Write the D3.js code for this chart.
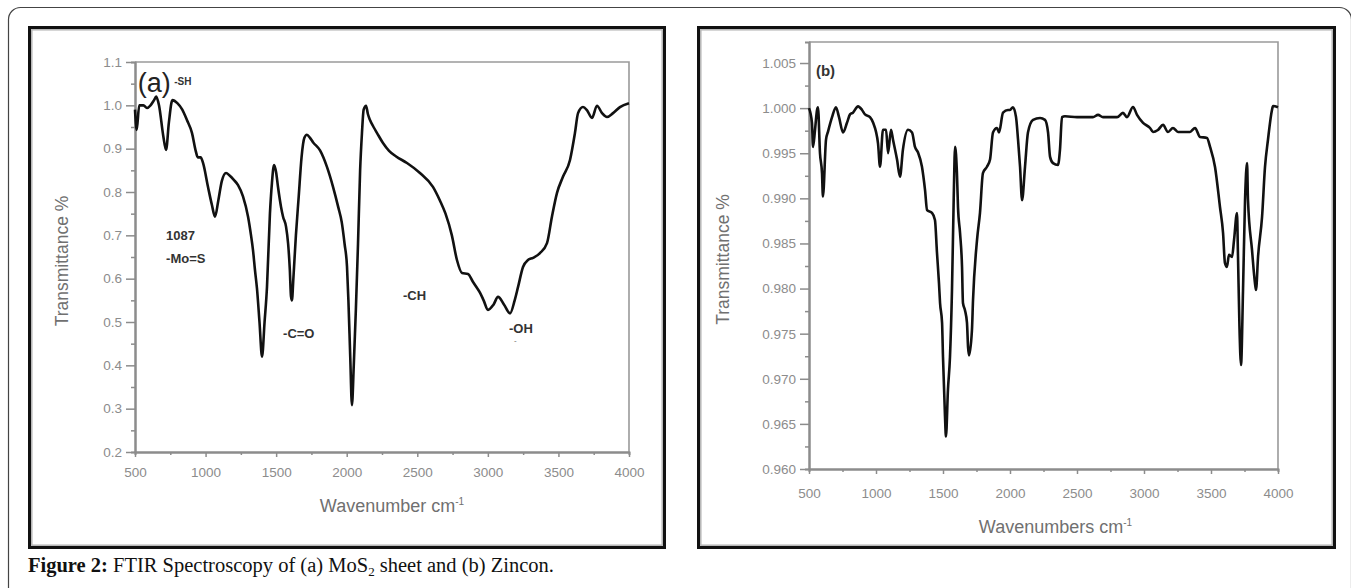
<!DOCTYPE html>
<html>
<head>
<meta charset="utf-8">
<script src="https://cdn.jsdelivr.net/npm/d3@7"></script>
<style>
  body { margin: 0; background: #fff; }
  svg { display: block; }
  .tick text { font-family: "Liberation Sans", Arial, sans-serif; fill: #8c8c8c; }
  .axis-title { font-family: "Liberation Sans", Arial, sans-serif; fill: #707070; }
  .note { font-family: "Liberation Sans", Arial, sans-serif; font-weight: bold; fill: #333; }
</style>
</head>
<body>
<div id="figure"></div>
<script>
// ---- panel (a): MoS2 sheet ----
var waveA = [500, 512, 530, 560, 585, 610, 635, 650, 670, 700, 720, 740, 765, 800, 835, 868, 904, 930, 945, 965,
  982, 1017, 1045, 1067, 1090, 1115, 1145, 1170, 1200, 1230, 1265, 1301, 1322, 1336, 1350, 1364, 1382, 1400, 1418, 1435,
  1456, 1470, 1485, 1500, 1513, 1535, 1549, 1570, 1585, 1597, 1605, 1612, 1622, 1640, 1660, 1680, 1700, 1718, 1740, 1761,
  1811, 1860, 1903, 1940, 1965, 1985, 2002, 2012, 2025, 2037, 2050, 2065, 2080, 2095, 2108, 2120, 2137, 2150, 2165, 2190,
  2215, 2257, 2300, 2350, 2427, 2519, 2611, 2661, 2700, 2745, 2781, 2817, 2859, 2894, 2920, 2944, 2970, 3001, 3040, 3072,
  3115, 3157, 3190, 3214, 3249, 3284, 3320, 3369, 3419, 3454, 3490, 3532, 3582, 3617, 3639, 3674, 3702, 3738, 3773, 3809,
  3844, 3887, 3936, 4000];
var transA = [0.990, 0.943, 1.000, 1.000, 0.994, 1.000, 1.012, 1.020, 1.000, 0.930, 0.897, 0.960, 1.012, 1.005, 0.990, 0.966, 0.936, 0.895, 0.880, 0.880,
  0.867, 0.812, 0.770, 0.743, 0.780, 0.825, 0.844, 0.838, 0.828, 0.816, 0.790, 0.743, 0.700, 0.666, 0.620, 0.578, 0.500, 0.420, 0.500, 0.580,
  0.750, 0.820, 0.862, 0.845, 0.812, 0.765, 0.743, 0.720, 0.680, 0.620, 0.560, 0.550, 0.600, 0.700, 0.790, 0.880, 0.925, 0.932, 0.925, 0.915,
  0.896, 0.858, 0.812, 0.765, 0.730, 0.680, 0.628, 0.550, 0.420, 0.308, 0.400, 0.530, 0.680, 0.850, 0.936, 0.990, 0.999, 0.980, 0.966, 0.950,
  0.936, 0.913, 0.895, 0.882, 0.867, 0.844, 0.812, 0.780, 0.750, 0.700, 0.643, 0.613, 0.611, 0.593, 0.580, 0.568, 0.550, 0.528, 0.540, 0.558,
  0.540, 0.520, 0.550, 0.581, 0.627, 0.643, 0.648, 0.659, 0.682, 0.743, 0.798, 0.835, 0.874, 0.936, 0.982, 0.996, 0.989, 0.971, 0.999, 0.982,
  0.973, 0.982, 0.996, 1.005];

// ---- panel (b): Zincon ----
var waveB = [500, 522, 530, 545, 560, 567, 582, 597, 604, 627, 642, 672, 701, 724, 754, 784, 806, 828, 866, 896,
  918, 955, 978, 1015, 1030, 1052, 1075, 1090, 1112, 1127, 1157, 1179, 1201, 1239, 1269, 1291, 1313, 1343, 1366, 1381,
  1418, 1440, 1455, 1470, 1478, 1493, 1500, 1515, 1522, 1537, 1552, 1567, 1580, 1590, 1604, 1612, 1627, 1642, 1649, 1664,
  1679, 1687, 1694, 1716, 1724, 1754, 1776, 1798, 1828, 1851, 1873, 1903, 1918, 1948, 1985, 2000, 2022, 2045, 2060, 2075,
  2090, 2112, 2134, 2172, 2224, 2261, 2284, 2299, 2321, 2358, 2373, 2388, 2410, 2500, 2619, 2657, 2694, 2799, 2843, 2873,
  2918, 2948, 2993, 3045, 3067, 3104, 3142, 3179, 3216, 3254, 3343, 3381, 3418, 3470, 3493, 3530, 3567, 3590, 3604, 3619,
  3634, 3657, 3672, 3694, 3701, 3712, 3724, 3739, 3754, 3769, 3776, 3806, 3828, 3836, 3851, 3881, 3903, 3925, 3955, 3963,
  4000];
var transB = [1.0000, 0.9984, 0.9957, 0.9976, 0.9998, 1.0001, 0.9950, 0.9928, 0.9902, 0.9965, 0.9974, 0.9990, 1.0001, 0.9990, 0.9973, 0.9984, 0.9993, 0.9995, 1.0002, 0.9998,
  0.9993, 0.9990, 0.9984, 0.9961, 0.9935, 0.9976, 0.9976, 0.9950, 0.9976, 0.9965, 0.9943, 0.9924, 0.9954, 0.9976, 0.9973, 0.9957, 0.9951, 0.9935, 0.9909, 0.9887,
  0.9884, 0.9876, 0.9840, 0.9806, 0.9784, 0.9762, 0.9724, 0.9658, 0.9636, 0.9688, 0.9724, 0.9798, 0.9900, 0.9957, 0.9928, 0.9890, 0.9862, 0.9824, 0.9784, 0.9776,
  0.9762, 0.9735, 0.9726, 0.9754, 0.9787, 0.9854, 0.9884, 0.9928, 0.9935, 0.9943, 0.9973, 0.9978, 0.9973, 0.9995, 0.9998, 0.9998, 1.0001, 0.9990, 0.9965, 0.9935,
  0.9898, 0.9935, 0.9973, 0.9987, 0.9989, 0.9987, 0.9973, 0.9946, 0.9939, 0.9937, 0.9954, 0.9990, 0.9991, 0.9990, 0.9990, 0.99925, 0.9990, 0.9990, 0.99947, 0.9990,
  1.00013, 0.99925, 0.99836, 0.9978, 0.99736, 0.99758, 0.99814, 0.99736, 0.9978, 0.99736, 0.99736, 0.9978, 0.99681, 0.9967, 0.9957, 0.99348, 0.98904, 0.98616, 0.98284, 0.98239,
  0.98373, 0.9835, 0.98539, 0.98838, 0.98395, 0.9760, 0.97153, 0.97984, 0.98982, 0.99392, 0.98982, 0.98428, 0.98062, 0.97984, 0.9835, 0.98794, 0.99348, 0.99647, 0.9998, 1.00024,
  1.0001];

// ---- axis ticks ----
var xTicks = [500, 1000, 1500, 2000, 2500, 3000, 3500, 4000];
var xMinorTicks = [750, 1250, 1750, 2250, 2750, 3250, 3750];
var yTicksA = [0.2, 0.3, 0.4, 0.5, 0.6, 0.7, 0.8, 0.9, 1.0, 1.1];
var yMinorTicksA = [0.25, 0.35, 0.45, 0.55, 0.65, 0.75, 0.85, 0.95, 1.05];
var yTicksB = [0.960, 0.965, 0.970, 0.975, 0.980, 0.985, 0.990, 0.995, 1.000, 1.005];
var yMinorTicksB = [0.9625, 0.9675, 0.9725, 0.9775, 0.9825, 0.9875, 0.9925, 0.9975, 1.0025];

function main() {

	// set svg's height and width
	const SVG_WIDTH  = 1351;
	const SVG_HEIGHT = 588;

	var svg = d3.select("#figure")
		.append("svg")
		.attr("width", SVG_WIDTH)
		.attr("height", SVG_HEIGHT);

	// page border with the rounded corners
	svg.append("rect")
		.attr("x", 8.5)
		.attr("y", 7.5)
		.attr("width", 1343)
		.attr("height", 700)
		.attr("rx", 12)
		.attr("fill", "none")
		.attr("stroke", "#444")
		.attr("stroke-width", 1.2);

	// left panel
	var pa = drawPanel(svg, {
		frame: [28, 26, 638, 523],
		plot: {left: 135, top: 62, right: 629, bottom: 452},
		yDomain: [0.2, 1.1],
		yTicks: yTicksA,
		yMinor: yMinorTicksA,
		yFormat: d3.format(".1f"),
		xPad: 10,
		wave: waveA,
		trans: transA,
		xTitle: "Wavenumber cm",
		xTitleY: 512,
		xTitleShift: 10,
		yTitleX: 62
	});

	// peak labels of (a)
	note(pa, 519, 1.031, "(a)", 27, "normal", "#222");
	note(pa, 778, 1.047, "-SH", 10, "bold", "#333");
	note(pa, 720, 0.689, "1087", 13, "bold", "#333");
	note(pa, 720, 0.636, "-Mo=S", 13, "bold", "#333");
	note(pa, 1549, 0.463, "-C=O", 13, "bold", "#333");
	note(pa, 2399, 0.551, "-CH", 13, "bold", "#333");
	note(pa, 3150, 0.475, "-OH", 13, "bold", "#333");
	note(pa, 3185, 0.452, "-", 8, "normal", "#666");

	// right panel
	var pb = drawPanel(svg, {
		frame: [697, 26, 639, 523],
		plot: {left: 809, top: 42, right: 1278, bottom: 469},
		yDomain: [0.96, 1.00733],
		yTicks: yTicksB,
		yMinor: yMinorTicksB,
		yFormat: d3.format(".3f"),
		xPad: 14,
		wave: waveB,
		trans: transB,
		xTitle: "Wavenumbers cm",
		xTitleY: 533,
		xTitleShift: 12,
		yTitleX: 723
	});

	note(pb, 552, 1.00357, "(b)", 15, "bold", "#333");

	// caption under the figure
	var cap = svg.append("text")
		.attr("x", 28)
		.attr("y", 572)
		.style("font-family", "'Liberation Serif', 'Times New Roman', serif")
		.style("font-size", "20.5px")
		.attr("fill", "#111");
	cap.append("tspan").style("font-weight", "bold").text("Figure 2:");
	cap.append("tspan").text(" FTIR Spectroscopy of (a) MoS");
	cap.append("tspan").attr("dy", 4).style("font-size", "13px").text("2");
	cap.append("tspan").attr("dy", -4).text(" sheet and (b) Zincon.");

	function note(p, w, t, label, size, weight, color) {
		p.g.append("text")
			.attr("class", "note")
			.attr("x", p.x(w))
			.attr("y", p.y(t))
			.style("font-size", size + "px")
			.style("font-weight", weight)
			.style("fill", color)
			.text(label);
	}

	function drawPanel(svg, cfg) {
		var g = svg.append("g");
		var f = cfg.frame;
		var p = cfg.plot;

		// black frame with a grey inner edge
		g.append("rect")
			.attr("x", f[0] + 1.5).attr("y", f[1] + 1.5)
			.attr("width", f[2] - 3).attr("height", f[3] - 3)
			.attr("fill", "#fff")
			.attr("stroke", "#111")
			.attr("stroke-width", 3);
		g.append("rect")
			.attr("x", f[0] + 3.8).attr("y", f[1] + 3.8)
			.attr("width", f[2] - 7.6).attr("height", f[3] - 7.6)
			.attr("fill", "none")
			.attr("stroke", "#b5b5b5")
			.attr("stroke-width", 1.5);

		var x = d3.scaleLinear().domain([500, 4000]).range([p.left, p.right]);
		var y = d3.scaleLinear().domain(cfg.yDomain).range([p.bottom, p.top]);

		// top and right edges of the plot box
		g.append("path")
			.attr("d", "M" + p.left + "," + p.top + "H" + p.right + "V" + p.bottom)
			.attr("fill", "none")
			.attr("stroke", "#9a9a9a")
			.attr("stroke-width", 1.6);

		// minor ticks
		g.append("g")
			.attr("transform", "translate(0," + p.bottom + ")")
			.call(d3.axisBottom(x).tickValues(xMinorTicks).tickSize(3).tickFormat(""))
			.call(styleAxis);
		g.append("g")
			.attr("transform", "translate(" + p.left + ",0)")
			.call(d3.axisLeft(y).tickValues(cfg.yMinor).tickSize(4).tickFormat(""))
			.call(styleAxis);

		// major ticks and labels
		g.append("g")
			.attr("transform", "translate(0," + p.bottom + ")")
			.call(d3.axisBottom(x).tickValues(xTicks).tickFormat(d3.format("d")).tickSize(5).tickSizeOuter(0).tickPadding(cfg.xPad))
			.call(styleAxis);
		g.append("g")
			.attr("transform", "translate(" + p.left + ",0)")
			.call(d3.axisLeft(y).tickValues(cfg.yTicks).tickFormat(cfg.yFormat).tickSize(9).tickSizeOuter(0).tickPadding(4))
			.call(styleAxis);

		// the spectrum
		var line = d3.line()
			.x(function(d) { return x(d[0]); })
			.y(function(d) { return y(d[1]); })
			.curve(d3.curveMonotoneX);
		g.append("path")
			.datum(d3.zip(cfg.wave, cfg.trans))
			.attr("d", line)
			.attr("fill", "none")
			.attr("stroke", "#111")
			.attr("stroke-width", 2.6)
			.attr("stroke-linejoin", "round");

		// axis titles
		var xt = g.append("text")
			.attr("class", "axis-title")
			.attr("x", (p.left + p.right) / 2 + cfg.xTitleShift)
			.attr("y", cfg.xTitleY)
			.attr("text-anchor", "middle")
			.style("font-size", "18px");
		xt.append("tspan").text(cfg.xTitle);
		xt.append("tspan").attr("dy", -7).style("font-size", "10px").text("-1");

		g.append("text")
			.attr("class", "axis-title")
			.attr("transform", "translate(" + cfg.yTitleX + "," + ((p.top + p.bottom) / 2 + 4) + ") rotate(-90)")
			.attr("text-anchor", "middle")
			.attr("dy", "0.35em")
			.style("font-size", "17.5px")
			.text("Transmittance %");

		return {g: g, x: x, y: y};
	}

	function styleAxis(sel) {
		sel.select(".domain").attr("stroke", "#8c8c8c").attr("stroke-width", 2);
		sel.selectAll(".tick line").attr("stroke", "#8c8c8c").attr("stroke-width", 1.5);
		sel.selectAll(".tick text").style("font-size", "13.5px");
	}
}

function whenDocumentLoaded(action) {
	if (document.readyState === "loading") {
		document.addEventListener("DOMContentLoaded", action);
	} else {
		// `DOMContentLoaded` already fired
		action();
	}
}

whenDocumentLoaded(() => {
	main()
});
</script>
</body>
</html>
